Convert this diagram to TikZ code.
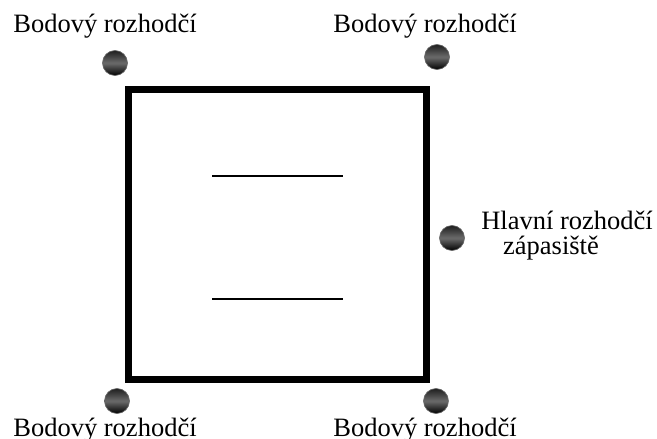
\documentclass[tikz,border=0pt]{standalone}
\usepackage{fontspec}
\setmainfont{Liberation Serif}
\begin{document}
\begin{tikzpicture}[x=1pt,y=-1pt,
  ball/.style={circle,minimum size=25pt,inner sep=0pt,draw=black!60,line width=0.6pt,
    top color=black!88,bottom color=black,middle color=black!58},
  lbl/.style={font=\fontsize{26.5}{30}\selectfont,inner sep=0pt,anchor=base},
  field/.style={line width=7pt,draw=black},
  fieldline/.style={line width=2.8pt,draw=black}]
\useasboundingbox (0,0) rectangle (657,439);
\fill[white] (0,0) rectangle (657,439);
\draw[field] (128,89) rectangle (426,379);
\coordinate (l1a) at (212,176); \coordinate (l1b) at (343,176);
\coordinate (l2a) at (212,299); \coordinate (l2b) at (343,299);
\draw[fieldline] (l1a) -- (l1b);
\draw[fieldline] (l2a) -- (l2b);
\node[ball] (b1) at (115,63) {};
\node[ball] (b2) at (437,57) {};
\node[ball] (b3) at (452,238) {};
\node[ball] (b4) at (117,401) {};
\node[ball] (b5) at (436,401) {};
\node[lbl] (t1) at (105,32) {Bodový rozhodčí};
\node[lbl] (t2) at (425,32) {Bodový rozhodčí};
\node[lbl] (t4) at (105,436) {Bodový rozhodčí};
\node[lbl] (t5) at (425,436) {Bodový rozhodčí};
\node[lbl] (t3a) at (567,229) {Hlavní rozhodčí};
\node[lbl] (t3b) at (551,254) {zápasiště};
\end{tikzpicture}
\end{document}
